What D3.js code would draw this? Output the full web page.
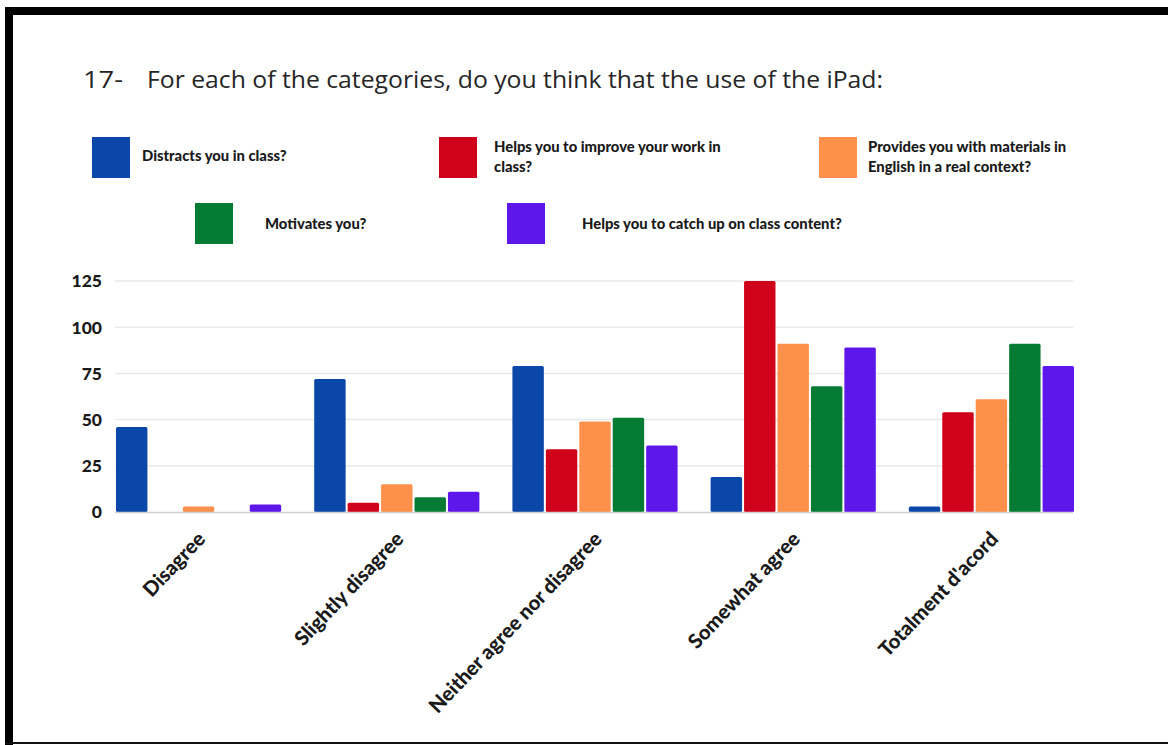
<!DOCTYPE html>
<html>
<head>
<meta charset="utf-8">
<script src="https://cdn.jsdelivr.net/npm/d3@7"></script>
<style>
  html, body { margin: 0; padding: 0; background: #fff; }
  svg { display: block; }
</style>
</head>
<body>
<svg id="chart" width="1168" height="745"></svg>
<script>
const categories = ["Disagree", "Slightly disagree", "Neither agree nor disagree", "Somewhat agree", "Totalment d'acord"];
const seriesNames = ["Distracts you in class?", "Helps you to improve your work in class?", "Provides you with materials in English in a real context?", "Motivates you?", "Helps you to catch up on class content?"];
const distracts = [46, 72, 79, 19, 3];
const improves = [0, 5, 34, 125, 54];
const materials = [3, 15, 49, 91, 61];
const motivates = [0, 8, 51, 68, 91];
const catchUp = [4, 11, 36, 89, 79];
const yTicks = [0, 25, 50, 75, 100, 125];
const colors = ["#0a47a8", "#d0021b", "#fd914b", "#067b34", "#5e17eb"];
const seriesValues = [distracts, improves, materials, motivates, catchUp];

const svg = d3.select("#chart");

// frame
svg.append("rect").attr("x", 5).attr("y", 7).attr("width", 1163).attr("height", 8).attr("fill", "#000");
svg.append("rect").attr("x", 5).attr("y", 7).attr("width", 8).attr("height", 738).attr("fill", "#000");
svg.append("rect").attr("x", 5).attr("y", 742).attr("width", 1163).attr("height", 2).attr("fill", "#111");

// title
svg.append("text").attr("x", 83).attr("y", 88)
  .attr("font-family", "'Open Sans', sans-serif").attr("font-size", 24).attr("fill", "#262626")
  .attr("textLength", 40).attr("lengthAdjust", "spacingAndGlyphs").text("17-");
svg.append("text").attr("x", 147).attr("y", 88)
  .attr("font-family", "'Open Sans', sans-serif").attr("font-size", 24).attr("fill", "#262626")
  .attr("textLength", 736).attr("lengthAdjust", "spacingAndGlyphs")
  .text("For each of the categories, do you think that the use of the iPad:");

// legend
const legendItems = [
  { i: 0, sx: 92, sy: 137, tx: 142, lines: ["Distracts you in class?"], ty: [161] },
  { i: 1, sx: 439, sy: 137, tx: 494, lines: ["Helps you to improve your work in", "class?"], ty: [152, 172] },
  { i: 2, sx: 819, sy: 137, tx: 868, lines: ["Provides you with materials in", "English in a real context?"], ty: [152, 172] },
  { i: 3, sx: 195, sy: 203, tx: 265, lines: ["Motivates you?"], ty: [229] },
  { i: 4, sx: 507, sy: 203, tx: 582, lines: ["Helps you to catch up on class content?"], ty: [229] }
];
const lg = svg.append("g");
legendItems.forEach(d => {
  lg.append("rect").attr("x", d.sx).attr("y", d.sy).attr("width", 38).attr("height", 41).attr("fill", colors[d.i]);
  d.lines.forEach((l, k) => {
    lg.append("text").attr("x", d.tx).attr("y", d.ty[k])
      .attr("font-family", "Lato, sans-serif").attr("font-weight", 900).attr("font-size", 14.8)
      .attr("fill", "#1a1a1a").text(l);
  });
});

// scales
const x0 = d3.scaleBand().domain(categories).range([115, 1073]).paddingInner(1/6).paddingOuter(0);
const x1 = d3.scaleBand().domain(d3.range(5)).range([0, x0.bandwidth()]).paddingInner(0.06);
const y = d3.scaleLinear().domain([0, 125]).range([512, 281]);

// grid
svg.append("g").selectAll("line").data(yTicks.filter(t => t > 0)).join("line")
  .attr("x1", 115).attr("x2", 1073).attr("y1", d => y(d)).attr("y2", d => y(d))
  .attr("stroke", "#e9e9e9").attr("stroke-width", 1.5);

// y labels
svg.append("g").selectAll("text").data(yTicks).join("text")
  .attr("x", 102).attr("y", d => y(d)).attr("dy", "0.36em").attr("text-anchor", "end")
  .attr("font-family", "Lato, sans-serif").attr("font-weight", 900).attr("font-size", 17.5)
  .attr("fill", "#1a1a1a").text(d => d);

// bars
const groups = svg.append("g").selectAll("g").data(categories).join("g")
  .attr("transform", d => `translate(${x0(d)},0)`);
groups.selectAll("rect").data((c, ci) => seriesValues.map((s, si) => ({ si, v: s[ci] })))
  .join("rect")
  .filter(d => d.v > 0)
  .attr("x", d => x1(d.si) + 1).attr("width", x1.bandwidth())
  .attr("y", d => y(d.v)).attr("height", d => y(0) - y(d.v))
  .attr("rx", 1.5)
  .attr("fill", d => colors[d.si]);

// baseline
svg.append("line").attr("x1", 115).attr("x2", 1073).attr("y1", y(0) + 0.5).attr("y2", y(0) + 0.5)
  .attr("stroke", "#cfcfcf").attr("stroke-width", 1.5);

// x labels
svg.append("g").selectAll("text").data(categories).join("text")
  .attr("transform", d => `translate(${x0(d) + x0.bandwidth() / 2 + 9},${540}) rotate(-46.5)`)
  .attr("text-anchor", "end")
  .attr("font-family", "Lato, sans-serif").attr("font-weight", 900).attr("font-size", 20.3)
  .attr("fill", "#1a1a1a").text(d => d);
</script>
</body>
</html>
